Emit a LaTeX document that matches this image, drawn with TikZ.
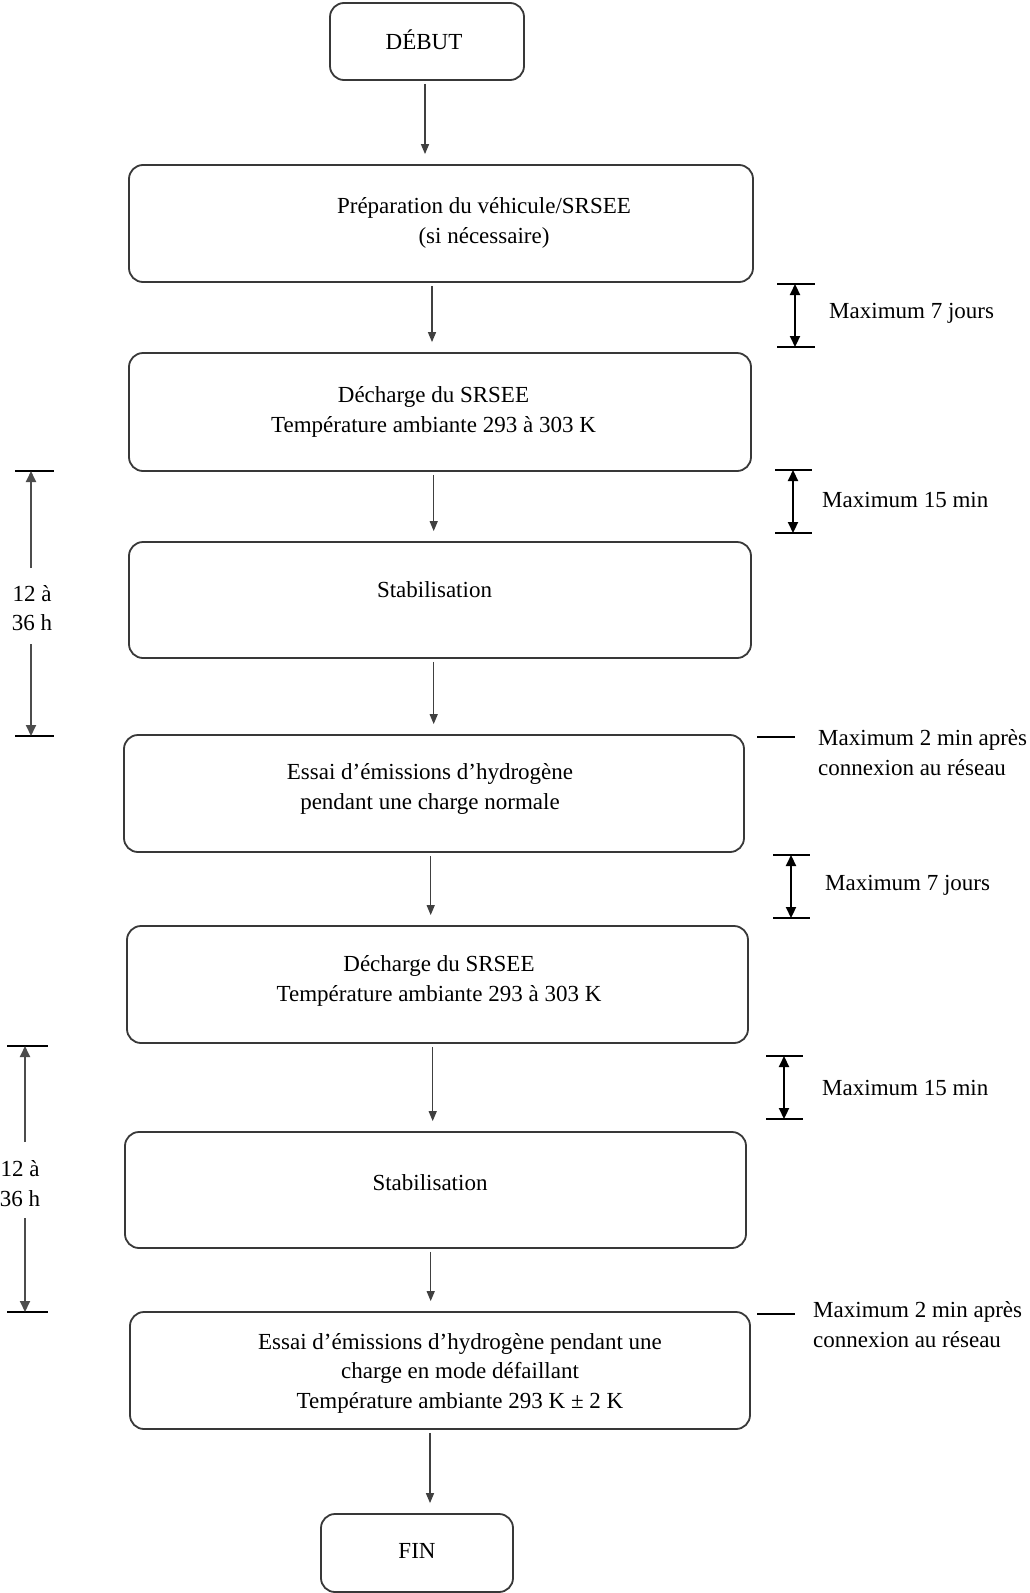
\documentclass[tikz,border=0pt]{standalone}
\usepackage{fontspec}
\setmainfont{Liberation Serif}
\usetikzlibrary{arrows.meta,calc}
\begin{document}
\begin{tikzpicture}[x=1pt,y=-1pt,
  font=\fontsize{23}{29.5}\selectfont,
  box/.style={draw=black!78, line width=1.8pt, rounded corners=14pt, inner sep=0pt},
  txt/.style={align=center, inner sep=0pt, text=black},
  ltxt/.style={align=left, inner sep=0pt, text=black, anchor=west},
  flow/.style={draw=black!75, line width=1.4pt, -{Triangle[length=10pt,width=8pt]}, shorten <=3pt, shorten >=10pt},
  dimarr/.style={draw=black, line width=2.2pt, {Triangle[length=11pt,width=10pt]}-{Triangle[length=11pt,width=10pt]}},
  tickline/.style={draw=black, line width=1.8pt},
  ldim/.style={draw=black!70, line width=1.8pt, -{Triangle[length=11pt,width=10pt]}}
]
\useasboundingbox (0,0) rectangle (1030,1593);

% boxes
\node[box, minimum width=194pt, minimum height=77pt]  (b1) at (427,41.5) {};
\node[box, minimum width=624pt, minimum height=117pt] (b2) at (441,223.5) {};
\node[box, minimum width=622pt, minimum height=118pt] (b3) at (440,412) {};
\node[box, minimum width=622pt, minimum height=116pt] (b4) at (440,600) {};
\node[box, minimum width=620pt, minimum height=117pt] (b5) at (434,793.5) {};
\node[box, minimum width=621pt, minimum height=117pt] (b6) at (437.5,984.5) {};
\node[box, minimum width=621pt, minimum height=116pt] (b7) at (435.5,1190) {};
\node[box, minimum width=620pt, minimum height=117pt] (b8) at (440,1370.5) {};
\node[box, minimum width=192pt, minimum height=78pt]  (b9) at (417,1553) {};

% texts in boxes
\node[txt] (t1) at (424,40) {DÉBUT};
\node[txt] (t2) at (484,223) {Préparation du véhicule/SRSEE\\(si nécessaire)};
\node[txt] (t3) at (433.5,412) {Décharge du SRSEE\\Température ambiante 293 à 303 K};
\node[txt] (t4) at (434.5,590) {Stabilisation};
\node[txt] (t5) at (430,789) {Essai d’émissions d’hydrogène\\pendant une charge normale};
\node[txt] (t6) at (439,981) {Décharge du SRSEE\\Température ambiante 293 à 303 K};
\node[txt] (t7) at (430,1183) {Stabilisation};
\node[txt] (t8) at (460,1373) {Essai d’émissions d’hydrogène pendant une\\charge en mode défaillant\\Température ambiante 293 K ± 2 K};
\node[txt] (t9) at (417,1551) {FIN};

% flow arrows
\coordinate (x1) at (425,0);
\coordinate (x2) at (432,0);
\coordinate (x3) at (433.7,0);
\coordinate (x4) at (433.7,0);
\coordinate (x5) at (430.7,0);
\coordinate (x6) at (432.7,0);
\coordinate (x7) at (430.7,0);
\coordinate (x8) at (430,0);
\draw[flow] (b1.south -| x1) -- (b2.north -| x1);
\draw[flow] (b2.south -| x2) -- (b3.north -| x2);
\draw[flow] (b3.south -| x3) -- (b4.north -| x3);
\draw[flow] (b4.south -| x4) -- (b5.north -| x4);
\draw[flow] (b5.south -| x5) -- (b6.north -| x5);
\draw[flow] (b6.south -| x6) -- (b7.north -| x6);
\draw[flow] (b7.south -| x7) -- (b8.north -| x7);
\draw[flow] (b8.south -| x8) -- (b9.north -| x8);

% right side dimension markers
\coordinate (r1t) at (795,284);  \coordinate (r1b) at (795,347);
\draw[tickline] ([xshift=-18pt]r1t) -- ([xshift=20pt]r1t);
\draw[tickline] ([xshift=-18pt]r1b) -- ([xshift=20pt]r1b);
\draw[dimarr] (r1t) -- (r1b);
\node[ltxt] (r1l) at (829,313) {Maximum 7 jours};

\coordinate (r2t) at (793,470);  \coordinate (r2b) at (793,533);
\draw[tickline] ([xshift=-18pt]r2t) -- ([xshift=19pt]r2t);
\draw[tickline] ([xshift=-18pt]r2b) -- ([xshift=19pt]r2b);
\draw[dimarr] (r2t) -- (r2b);
\node[ltxt] (r2l) at (822,500) {Maximum 15 min};

\coordinate (r3a) at (757,737);  \coordinate (r3b) at (795,737);
\draw[tickline] (r3a) -- (r3b);
\node[ltxt] (r3l) at (818,752.5) {Maximum 2 min après\\connexion au réseau};

\coordinate (r4t) at (791,855);  \coordinate (r4b) at (791,918);
\draw[tickline] ([xshift=-18pt]r4t) -- ([xshift=19pt]r4t);
\draw[tickline] ([xshift=-18pt]r4b) -- ([xshift=19pt]r4b);
\draw[dimarr] (r4t) -- (r4b);
\node[ltxt] (r4l) at (825,885) {Maximum 7 jours};

\coordinate (r5t) at (784,1056);  \coordinate (r5b) at (784,1119);
\draw[tickline] ([xshift=-18pt]r5t) -- ([xshift=19pt]r5t);
\draw[tickline] ([xshift=-18pt]r5b) -- ([xshift=19pt]r5b);
\draw[dimarr] (r5t) -- (r5b);
\node[ltxt] (r5l) at (822,1088) {Maximum 15 min};

\coordinate (r6a) at (757,1314);  \coordinate (r6b) at (795,1314);
\draw[tickline] (r6a) -- (r6b);
\node[ltxt] (r6l) at (813,1324.5) {Maximum 2 min après\\connexion au réseau};

% left side markers
\coordinate (l1t) at (31,471);  \coordinate (l1b) at (31,736);
\coordinate (l1m) at (31,568);  \coordinate (l1n) at (31,644);
\draw[tickline] ([xshift=-16pt]l1t) -- ([xshift=23pt]l1t);
\draw[tickline] ([xshift=-16pt]l1b) -- ([xshift=23pt]l1b);
\draw[ldim] (l1m) -- (l1t);
\draw[ldim] (l1n) -- (l1b);
\node[txt] (l1l) at (32,608) {12 à\\36 h};

\coordinate (l2t) at (25,1046);  \coordinate (l2b) at (25,1312);
\coordinate (l2m) at (25,1142);  \coordinate (l2n) at (25,1218);
\draw[tickline] ([xshift=-18pt]l2t) -- ([xshift=23pt]l2t);
\draw[tickline] ([xshift=-18pt]l2b) -- ([xshift=23pt]l2b);
\draw[ldim] (l2m) -- (l2t);
\draw[ldim] (l2n) -- (l2b);
\node[txt] (l2l) at (20,1183.5) {12 à\\36 h};
\end{tikzpicture}
\end{document}
